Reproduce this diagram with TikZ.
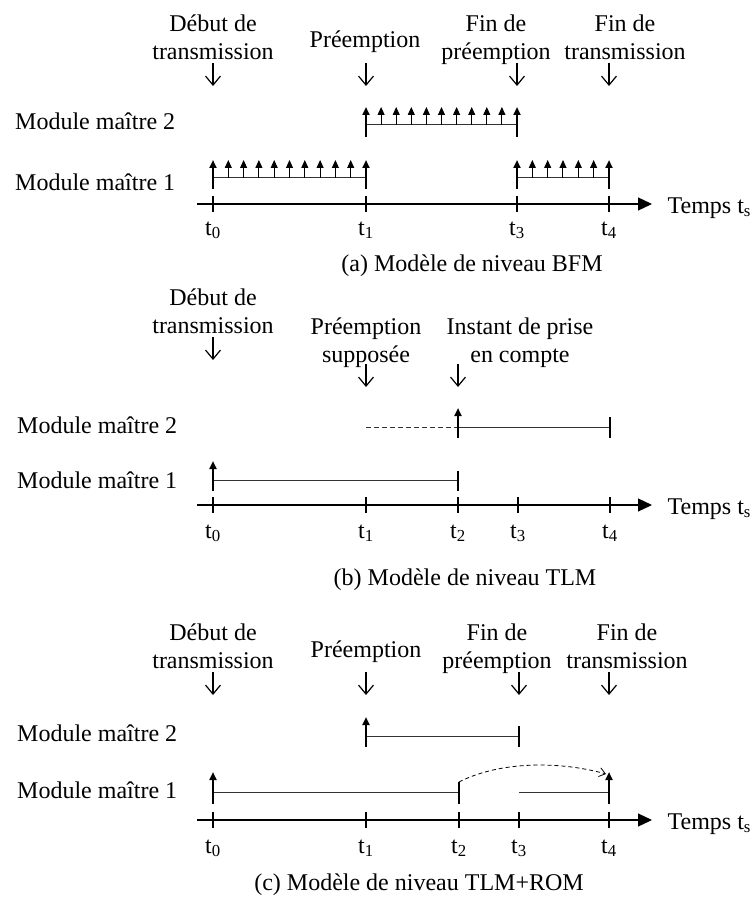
\documentclass[tikz,border=0pt]{standalone}
\usepackage{fontspec}
\setmainfont{Liberation Serif}
\usetikzlibrary{arrows.meta}

\tikzset{
    txt/.style={font=\fontsize{24}{28}\selectfont, inner sep=0pt},
    lbl/.style={txt, align=center, anchor=base},
    mod/.style={txt, anchor=base west},
    tps/.style={txt, anchor=base west, xshift=15pt, yshift=-9pt},
    axe/.style={line width=1.2pt, -{Triangle[length=14pt,width=13pt]}},
    trait/.style={line width=2pt},
    seg/.style={line width=1pt, black!80},
    pointe/.style={line width=1.2pt, -{Straight Barb[length=9pt,width=15pt]}},
    impuls/.style={line width=1pt, -{Triangle[length=8pt,width=7pt]}},
    impulsfin/.style={line width=2pt, -{Triangle[length=8pt,width=7pt]}},
}

\begin{document}
\begin{tikzpicture}[x=1pt, y=-1pt]
    \useasboundingbox (0,0) rectangle (753,904);

    % (a) niveau BFM
    \foreach \n/\x in {0/213,1/366,3/517,4/609}
        \coordinate (a\n) at (\x,204);
    \coordinate (aS) at (197,204);
    \coordinate (aE) at (652,204);

    \node[lbl] (aDeb) at (213,60) {Début de\\transmission};
    \node[lbl] (aPre) at (365,48) {Préemption};
    \node[lbl] (aFinP) at (496,60) {Fin de\\préemption};
    \node[lbl] (aFinT) at (625,60) {Fin de\\transmission};
    \foreach \n in {0,1,3,4}
        \draw[pointe] (a\n |- 0,63) -- (a\n |- 0,86);

    \node[mod] (aM2) at (15,130) {Module maître 2};
    \node[mod] (aM1) at (15,190) {Module maître 1};

    \draw[seg] (a1 |- 0,125) -- (a3 |- 0,125);
    \foreach \i in {1,...,9}
        \draw[impuls] ({366+\i*15.1},125) -- ++(0,-18);
    \draw[impulsfin] (a1 |- 0,137) -- (a1 |- 0,107);
    \draw[impulsfin] (a3 |- 0,137) -- (a3 |- 0,107);

    \draw[seg] (a0 |- 0,178) -- (a1 |- 0,178);
    \foreach \i in {1,...,9}
        \draw[impuls] ({213+\i*15.3},178) -- ++(0,-18);
    \draw[seg] (a3 |- 0,178) -- (a4 |- 0,178);
    \foreach \i in {1,...,5}
        \draw[impuls] ({517+\i*15.33},178) -- ++(0,-18);
    \foreach \n in {0,1,3,4}
        \draw[impulsfin] (a\n |- 0,189) -- (a\n |- 0,160);

    \draw[axe] (aS) -- (aE) node[tps] (aTps) {Temps t\textsubscript{s}};
    \foreach \n in {0,1,3,4} {
        \draw[trait] ([yshift=8pt]a\n) -- ([yshift=-8pt]a\n);
        \node[lbl] (at\n) at ([yshift=-31pt]a\n) {t\textsubscript{\n}};
    }
    \node[lbl] (aCap) at (472,271) {(a) Modèle de niveau BFM};

    % (b) niveau TLM
    \foreach \n/\x in {0/213,1/366,2/458,3/518,4/610}
        \coordinate (b\n) at (\x,505);
    \coordinate (bS) at (197,505);
    \coordinate (bE) at (652,505);

    \node[lbl] (bDeb) at (213,333) {Début de\\transmission};
    \node[lbl] (bPre) at (366,362) {Préemption\\supposée};
    \node[lbl] (bInst) at (520,362) {Instant de prise\\en compte};
    \draw[pointe] (b0 |- 0,337) -- (b0 |- 0,360);
    \draw[pointe] (b1 |- 0,364) -- (b1 |- 0,387);
    \draw[pointe] (b2 |- 0,364) -- (b2 |- 0,387);

    \node[mod] (bM2) at (17,433) {Module maître 2};
    \node[mod] (bM1) at (17,488) {Module maître 1};

    \draw[seg, dash pattern=on 5pt off 3pt] (b1 |- 0,427) -- (b2 |- 0,427);
    \draw[seg] (b2 |- 0,427) -- (b4 |- 0,427);
    \draw[impulsfin] (b2 |- 0,438) -- (b2 |- 0,408);
    \draw[trait] (b4 |- 0,417) -- (b4 |- 0,438);

    \draw[seg] (b0 |- 0,480) -- (b2 |- 0,480);
    \draw[impulsfin] (b0 |- 0,491) -- (b0 |- 0,461);
    \draw[trait] (b2 |- 0,471) -- (b2 |- 0,491);

    \draw[axe] (bS) -- (bE) node[tps] (bTps) {Temps t\textsubscript{s}};
    \foreach \n in {0,...,4} {
        \draw[trait] ([yshift=8pt]b\n) -- ([yshift=-8pt]b\n);
        \node[lbl] (bt\n) at ([yshift=-33pt]b\n) {t\textsubscript{\n}};
    }
    \node[lbl] (bCap) at (465,585) {(b) Modèle de niveau TLM};

    % (c) niveau TLM+ROM
    \foreach \n/\x in {0/213,1/366,2/459,3/519,4/609}
        \coordinate (c\n) at (\x,820);
    \coordinate (cS) at (197,820);
    \coordinate (cE) at (652,820);

    \node[lbl] (cDeb) at (213,668) {Début de\\transmission};
    \node[lbl] (cPre) at (366,657) {Préemption};
    \node[lbl] (cFinP) at (497,668) {Fin de\\préemption};
    \node[lbl] (cFinT) at (627,668) {Fin de\\transmission};
    \foreach \n in {0,1,3,4}
        \draw[pointe] (c\n |- 0,672) -- (c\n |- 0,695);

    \node[mod] (cM2) at (17,741) {Module maître 2};
    \node[mod] (cM1) at (17,798) {Module maître 1};

    \draw[seg] (c1 |- 0,736) -- (c3 |- 0,736);
    \draw[impulsfin] (c1 |- 0,747) -- (c1 |- 0,717);
    \draw[trait] (c3 |- 0,726) -- (c3 |- 0,747);

    \draw[seg] (c0 |- 0,792) -- (c2 |- 0,792);
    \draw[seg] (c3 |- 0,792) -- (c4 |- 0,792);
    \draw[impulsfin] (c0 |- 0,804) -- (c0 |- 0,772);
    \draw[trait] (c2 |- 0,782) -- (c2 |- 0,804);
    \draw[impulsfin] (c4 |- 0,804) -- (c4 |- 0,772);
    \coordinate (cDep) at (459,782);
    \coordinate (cArr) at (606,774);
    \draw[line width=0.8pt, dash pattern=on 4pt off 3pt, -{Straight Barb[length=6pt,width=9pt]}]
        (cDep) .. controls (500,761) and (560,761) .. (cArr);

    \draw[axe] (cS) -- (cE) node[tps] (cTps) {Temps t\textsubscript{s}};
    \foreach \n in {0,...,4} {
        \draw[trait] ([yshift=8pt]c\n) -- ([yshift=-8pt]c\n);
        \node[lbl] (ct\n) at ([yshift=-33pt]c\n) {t\textsubscript{\n}};
    }
    \node[lbl] (cCap) at (419,890) {(c) Modèle de niveau TLM+ROM};
\end{tikzpicture}
\end{document}
